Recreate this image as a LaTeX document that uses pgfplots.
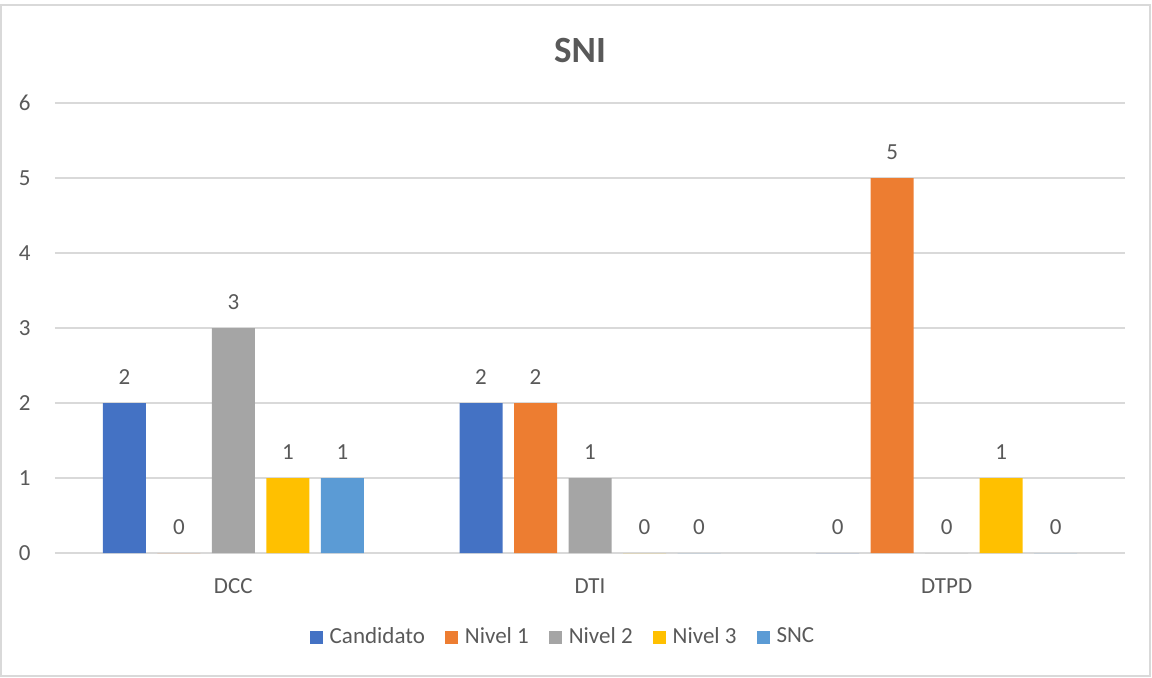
\documentclass[border=0pt]{standalone}
\usepackage{pgfplots}
\pgfplotsset{compat=1.18}
\usepackage{fontspec}
\setmainfont{Carlito}
\definecolor{cA}{HTML}{4472C4}
\definecolor{cB}{HTML}{ED7D31}
\definecolor{cC}{HTML}{A5A5A5}
\definecolor{cD}{HTML}{FFC000}
\definecolor{cE}{HTML}{5B9BD5}
\definecolor{txt}{HTML}{595959}
\definecolor{gridc}{HTML}{D9D9D9}
\begin{document}
\begin{tikzpicture}[x=1pt,y=1pt]
\path[use as bounding box] (0,0) rectangle (576,338.5);
\draw[gridc, line width=0.75pt] (0.5,0.5) rectangle (575,336);
\begin{axis}[
  at={(27.5pt,62pt)}, anchor=south west,
  scale only axis, width=535pt, height=225pt,
  clip=false,
  ybar=5.75pt, bar width=21.5pt,
  xmin=-0.5, xmax=2.5, ymin=0, ymax=6,
  xtick={0,1,2}, xticklabels={DCC,DTI,DTPD},
  ytick={0,1,2,3,4,5,6},
  ymajorgrids, grid style={gridc, line width=0.75pt},
  axis line style={draw=none},
  major tick length=0pt,
  tick label style={font=\fontsize{11.5}{13}\selectfont, text=txt},
  /pgf/number format/assume math mode=true,
  yticklabel style={inner sep=0pt, anchor=east, xshift=-12pt},
  xticklabel style={inner sep=0pt, anchor=north, yshift=-12.5pt},
  title={\textbf{SNI}},
  title style={at={(0.4907,1.09)}, anchor=center, font=\fontsize{18.5}{22}\selectfont, text=txt},
  nodes near coords,
  every node near coord/.append style={font=\fontsize{11.5}{13}\selectfont, text=txt, inner sep=0pt, anchor=south, yshift=9pt},
  legend style={at={(0.4757,-0.1867)}, anchor=center, draw=none, fill=none,
    legend columns=-1, font=\fontsize{11.5}{13}\selectfont, text=txt,
    /tikz/every odd column/.append style={column sep=1.5pt},
    /tikz/every even column/.append style={column sep=8pt}},
  legend image code/.code={\fill[#1] (0pt,-3.25pt) rectangle (6.5pt,3.25pt);},
]
\addplot[fill=cA, draw=none] coordinates {(0,2) (1,2) (2,0)};
\addplot[fill=cB, draw=none] coordinates {(0,0) (1,2) (2,5)};
\addplot[fill=cC, draw=none] coordinates {(0,3) (1,1) (2,0)};
\addplot[fill=cD, draw=none] coordinates {(0,1) (1,0) (2,1)};
\addplot[fill=cE, draw=none] coordinates {(0,1) (1,0) (2,0)};
\legend{Candidato, Nivel 1, Nivel 2, Nivel 3, SNC}
\end{axis}
\end{tikzpicture}
\end{document}
